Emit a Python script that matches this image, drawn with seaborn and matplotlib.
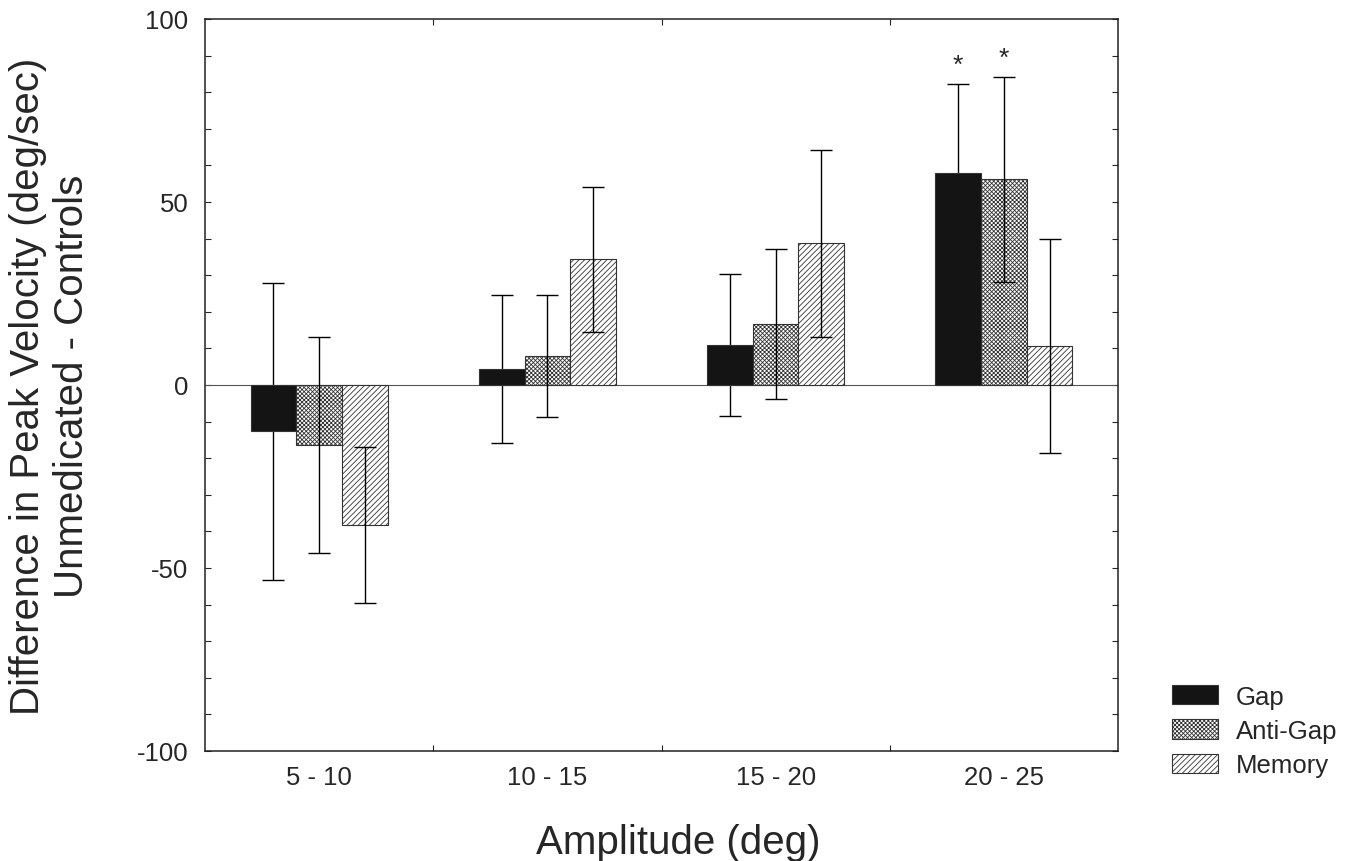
import matplotlib
matplotlib.use("Agg")
import matplotlib.pyplot as plt
from matplotlib.patches import Patch
from matplotlib.ticker import MultipleLocator, FixedLocator
import numpy as np
import pandas as pd
import seaborn as sns

# ---- data ----
amplitudes = ["5 - 10", "10 - 15", "15 - 20", "20 - 25"]
conditions = ["Gap", "Anti-Gap", "Memory"]
gap_vals = [-12.6, 4.4, 11.0, 57.8]
gap_err = [40.6, 20.2, 19.4, 24.5]
anti_vals = [-16.4, 7.9, 16.7, 56.2]
anti_err = [29.5, 16.7, 20.5, 28.0]
mem_vals = [-38.3, 34.3, 38.7, 10.7]
mem_err = [21.3, 19.8, 25.5, 29.2]
significant = [("20 - 25", "Gap"), ("20 - 25", "Anti-Gap")]

vals = {"Gap": gap_vals, "Anti-Gap": anti_vals, "Memory": mem_vals}
errs = {"Gap": gap_err, "Anti-Gap": anti_err, "Memory": mem_err}
df = pd.DataFrame(
    [(a, c, vals[c][i]) for c in conditions for i, a in enumerate(amplitudes)],
    columns=["Amplitude", "Condition", "Value"],
)

sns.set_style("white")
plt.rcParams["font.family"] = ["Liberation Sans", "DejaVu Sans"]
plt.rcParams["hatch.linewidth"] = 0.6
plt.rcParams["axes.unicode_minus"] = False

fig = plt.figure(figsize=(13.53, 8.62), dpi=100)
ax = fig.add_axes([205 / 1353, 1 - 752 / 862, 913 / 1353, 732 / 862])

palette = {"Gap": "#141414", "Anti-Gap": "white", "Memory": "white"}
sns.barplot(data=df, x="Amplitude", y="Value", hue="Condition", order=amplitudes,
            hue_order=conditions, palette=palette, width=0.6, gap=0,
            errorbar=None, edgecolor="#141414", linewidth=0.8, legend=False,
            saturation=1, ax=ax)

hatches = {"Gap": "", "Anti-Gap": "xxxxxxxx", "Memory": "//////"}
for cond, cont in zip(conditions, ax.containers):
    xs = []
    for p in cont.patches:
        p.set_hatch(hatches[cond])
        p.set_edgecolor("#333333")
        p.set_zorder(2)
        xs.append(p.get_x() + p.get_width() / 2)
    # solid bars hide the part of their error bar that lies inside them
    ez = 1.5 if cond == "Gap" else 5
    ax.errorbar(xs, vals[cond], yerr=errs[cond], fmt="none", ecolor="black",
                elinewidth=1.0, capsize=8, capthick=1.0, zorder=ez)
    for i, a in enumerate(amplitudes):
        if (a, cond) in significant:
            ax.annotate("*", (xs[i], vals[cond][i] + errs[cond][i]),
                        xytext=(0, 5), textcoords="offset points",
                        ha="center", va="bottom", fontsize=19)

ax.axhline(0, color="#555555", lw=0.8, zorder=1)

ax.set_xlim(-0.5, 3.5)
ax.set_ylim(-100, 100)
ax.yaxis.set_major_locator(MultipleLocator(50))
ax.yaxis.set_minor_locator(MultipleLocator(10))
ax.xaxis.set_minor_locator(FixedLocator([0.5, 1.5, 2.5]))
ax.tick_params(axis="y", which="both", direction="in", left=True, right=True,
               length=4, width=0.8, labelsize=18.5, pad=12)
ax.tick_params(axis="x", which="major", length=0, labelsize=18.5, pad=10)
ax.tick_params(axis="x", which="minor", direction="in", bottom=True, top=True,
               length=4, width=0.8)
for s in ax.spines.values():
    s.set_visible(True)
    s.set_color("#222222")
    s.set_linewidth(1.1)

ax.set_xlabel("Amplitude (deg)", fontsize=29)
ax.xaxis.set_label_coords((678 - 205) / 913, (752 - 843) / 732)
ax.xaxis.label.set_verticalalignment("center")
ax.set_ylabel("Difference in Peak Velocity (deg/sec)\nUnmedicated - Controls",
              fontsize=29, linespacing=1.2)
ax.yaxis.set_label_coords((50 - 205) / 913, 0.5)
ax.yaxis.label.set_verticalalignment("center")

handles = [Patch(facecolor=palette[c], edgecolor="#333333", hatch=hatches[c],
                 linewidth=0.8) for c in conditions]
fig.legend(handles, conditions, loc="center left",
           bbox_to_anchor=(1172 / 1353, 1 - 732 / 862), frameon=False,
           fontsize=18.5, handlelength=1.79, handleheight=0.78,
           handletextpad=0.7, labelspacing=0.4, borderpad=0, borderaxespad=0)

fig.savefig("out.png", dpi=100)
